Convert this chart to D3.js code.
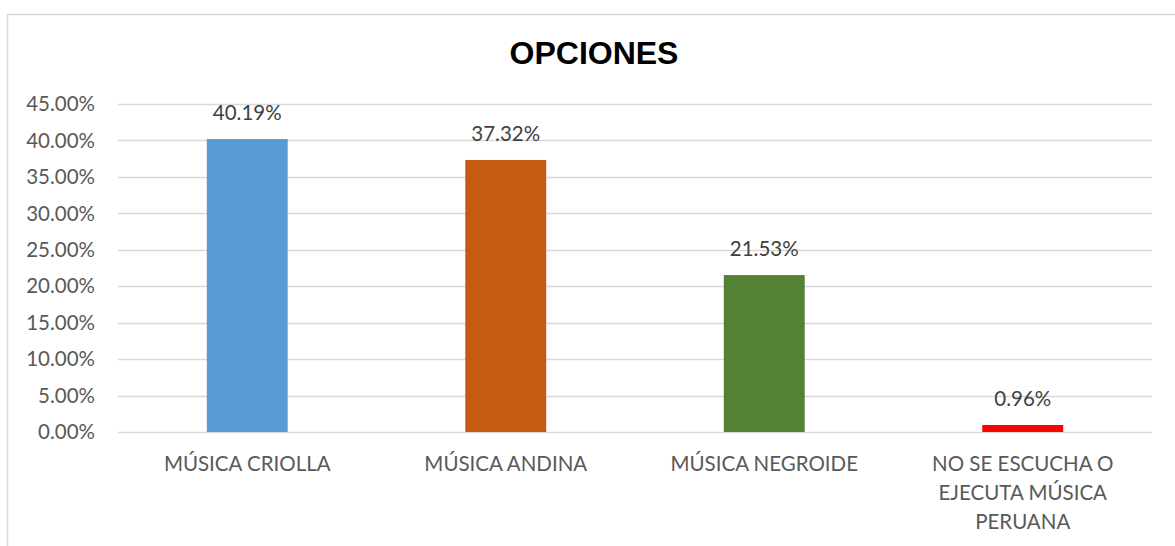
<!DOCTYPE html>
<html>
<head>
<meta charset="utf-8">
<script src="https://cdn.jsdelivr.net/npm/d3@7"></script>
<style>
  body { margin: 0; background: #fff; }
  svg text { font-family: Lato, "Open Sans", sans-serif; }
</style>
</head>
<body>
<div id="chart"></div>
<script>
// chart data
var categories = ["MÚSICA CRIOLLA", "MÚSICA ANDINA", "MÚSICA NEGROIDE", "NO SE ESCUCHA O EJECUTA MÚSICA PERUANA"];
var categoryLines = [["MÚSICA CRIOLLA"], ["MÚSICA ANDINA"], ["MÚSICA NEGROIDE"], ["NO SE ESCUCHA O", "EJECUTA MÚSICA", "PERUANA"]];
var values = [40.19, 37.32, 21.53, 0.96];
var barColors = ["#5B9BD5", "#C55A11", "#548235", "#FF0000"];
var yTicks = [0, 5, 10, 15, 20, 25, 30, 35, 40, 45];
var title = "OPCIONES";

var width = 1175, height = 546;
var plot = { left: 118, right: 1152, top: 104, bottom: 432 };
var fontSize = 20.5;

var svg = d3.select("#chart").append("svg")
	.attr("width", width)
	.attr("height", height);

// chart area border
svg.append("rect")
	.attr("x", 7.5).attr("y", 14.5)
	.attr("width", 1200).attr("height", 600)
	.attr("fill", "#fff")
	.attr("stroke", "#d9d9d9")
	.attr("stroke-width", 1.5);

var x = d3.scaleBand()
	.domain(categories)
	.range([plot.left, plot.right])
	.padding(0);

var barWidth = x.bandwidth() * 0.313;

var y = d3.scaleLinear()
	.domain([0, 45])
	.range([plot.bottom, plot.top]);

// gridlines
svg.append("g")
	.selectAll("line")
	.data(yTicks)
	.join("line")
	.attr("x1", plot.left).attr("x2", plot.right)
	.attr("y1", function (d) { return Math.round(y(d)) + 0.5; })
	.attr("y2", function (d) { return Math.round(y(d)) + 0.5; })
	.attr("stroke", "#d9d9d9")
	.attr("stroke-width", 1.5);

// y tick labels
svg.append("g")
	.selectAll("text")
	.data(yTicks)
	.join("text")
	.attr("x", 95)
	.attr("y", function (d) { return y(d); })
	.attr("dy", "0.35em")
	.attr("text-anchor", "end")
	.attr("font-size", fontSize)
	.attr("fill", "#595959")
	.text(function (d) { return d.toFixed(2) + "%"; });

// bars
svg.append("g")
	.selectAll("rect")
	.data(values)
	.join("rect")
	.attr("x", function (d, i) { return x(categories[i]) + (x.bandwidth() - barWidth) / 2; })
	.attr("y", function (d) { return y(d); })
	.attr("width", barWidth)
	.attr("height", function (d) { return y(0) - y(d); })
	.attr("fill", function (d, i) { return barColors[i]; });

// data labels
svg.append("g")
	.selectAll("text")
	.data(values)
	.join("text")
	.attr("x", function (d, i) { return x(categories[i]) + x.bandwidth() / 2; })
	.attr("y", function (d) { return y(d) - 19; })
	.attr("text-anchor", "middle")
	.attr("font-size", fontSize)
	.attr("fill", "#404040")
	.text(function (d) { return d.toFixed(2) + "%"; });

// category labels
var catG = svg.append("g")
	.selectAll("text")
	.data(categoryLines)
	.join("text")
	.attr("text-anchor", "middle")
	.attr("font-size", fontSize)
	.attr("fill", "#595959")
	.attr("transform", function (d, i) {
		return "translate(" + (x(categories[i]) + x.bandwidth() / 2) + "," + 471 + ")";
	});

catG.selectAll("tspan")
	.data(function (d) { return d; })
	.join("tspan")
	.attr("x", 0)
	.attr("y", function (d, i) { return i * 29; })
	.text(function (d) { return d; });

// title
svg.append("text")
	.attr("x", 594)
	.attr("y", 64)
	.attr("text-anchor", "middle")
	.style("font-family", "'Liberation Sans', Arial, sans-serif")
	.attr("font-size", 32)
	.attr("font-weight", "bold")
	.attr("fill", "#000")
	.text(title);
</script>
</body>
</html>
